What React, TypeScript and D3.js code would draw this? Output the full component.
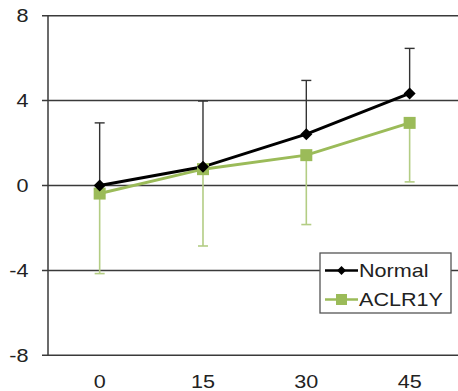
import React from "react";
import * as d3 from "d3";

const categories = ["0", "15", "30", "45"];
const normalValues = [0.0, 0.88, 2.42, 4.34];
const normalErrUp = [2.95, 3.1, 2.53, 2.12];
const aclrValues = [-0.38, 0.77, 1.43, 2.95];
const aclrErrDown = [3.77, 3.62, 3.27, 2.78];
const yTicks = [-8, -4, 0, 4, 8];

const W = 458;
const H = 391;
const left = 48;
const top = 15.7;
const bottom = 355.3;
const FONT = "'Liberation Sans', Arial, sans-serif";
const GREEN = "#9BBB59";
const GREEN_ERR = "#b3cd84";
const FS = 18;
const SX = 1.2;

function SText(props: { x: number; y: number; anchor: "start" | "middle" | "end"; dy?: string; children: React.ReactNode }) {
  return (
    <text
      transform={`translate(${props.x},${props.y}) scale(${SX},1)`}
      dy={props.dy}
      textAnchor={props.anchor}
      fontFamily={FONT}
      fontSize={FS}
      fill="#222"
    >
      {props.children}
    </text>
  );
}

const diamondPath = (r: number) => `M0,${-r}L${r},0L0,${r}L${-r},0Z`;

export default function App() {
  const x = d3.scaleBand<string>().domain(categories).range([left, left + 413.3]).padding(0);
  const cx = (c: string) => (x(c) as number) + x.bandwidth() / 2;
  const y = d3.scaleLinear().domain([-8, 8]).range([bottom, top]);
  const line = d3
    .line<number>()
    .x((_, i) => cx(categories[i]))
    .y((d) => y(d));

  return (
    <svg width={W} height={H} style={{ position: "absolute", left: 0, top: 0, background: "#fff" }}>
      <rect width={W} height={H} fill="#fff" />
      {yTicks.map((t) => (
        <g key={t}>
          <line x1={42} x2={W} y1={y(t)} y2={y(t)} stroke="#3a3a3a" strokeWidth={1.5} />
          <SText x={28.5} y={y(t)} dy="0.36em" anchor="end">
            {t}
          </SText>
        </g>
      ))}
      <line x1={left} x2={left} y1={top} y2={bottom} stroke="#3a3a3a" strokeWidth={1.5} />
      {categories.map((c) => (
        <SText key={c} x={cx(c)} y={388} anchor="middle">
          {c}
        </SText>
      ))}
      {/* error bars */}
      {categories.map((c, i) => {
        const px = cx(c);
        const y0 = y(normalValues[i]);
        const y1 = y(normalValues[i] + normalErrUp[i]);
        return (
          <g key={"ne" + c} stroke="#333" strokeWidth={1.4}>
            <line x1={px} x2={px} y1={y0} y2={y1} />
            <line x1={px - 5} x2={px + 5} y1={y1} y2={y1} />
          </g>
        );
      })}
      {categories.map((c, i) => {
        const px = cx(c);
        const y0 = y(aclrValues[i]);
        const y1 = y(aclrValues[i] - aclrErrDown[i]);
        return (
          <g key={"ae" + c} stroke={GREEN_ERR} strokeWidth={1.6}>
            <line x1={px} x2={px} y1={y0} y2={y1} />
            <line x1={px - 5} x2={px + 5} y1={y1} y2={y1} />
          </g>
        );
      })}
      <path d={line(aclrValues) as string} fill="none" stroke={GREEN} strokeWidth={3} />
      <path d={line(normalValues) as string} fill="none" stroke="#000" strokeWidth={3} />
      {aclrValues.map((v, i) => (
        <rect key={"as" + i} x={cx(categories[i]) - 6} y={y(v) - 6} width={12} height={12} fill={GREEN} />
      ))}
      {normalValues.map((v, i) => (
        <path key={"nd" + i} d={diamondPath(6)} transform={`translate(${cx(categories[i])},${y(v)})`} fill="#000" />
      ))}
      {/* legend */}
      <g>
        <rect x={320} y={253} width={131} height={60} fill="#fff" stroke="#555" strokeWidth={1.3} />
        <line x1={325} x2={358} y1={270.5} y2={270.5} stroke="#000" strokeWidth={2.5} />
        <path d={diamondPath(4.5)} transform="translate(341.5,270.5)" fill="#000" />
        <SText x={359} y={270.5} dy="0.36em" anchor="start">
          Normal
        </SText>
        <line x1={325} x2={358} y1={299.5} y2={299.5} stroke={GREEN} strokeWidth={2.5} />
        <rect x={336} y={294} width={11} height={11} fill={GREEN} />
        <SText x={359} y={299.5} dy="0.36em" anchor="start">
          ACLR1Y
        </SText>
      </g>
    </svg>
  );
}
